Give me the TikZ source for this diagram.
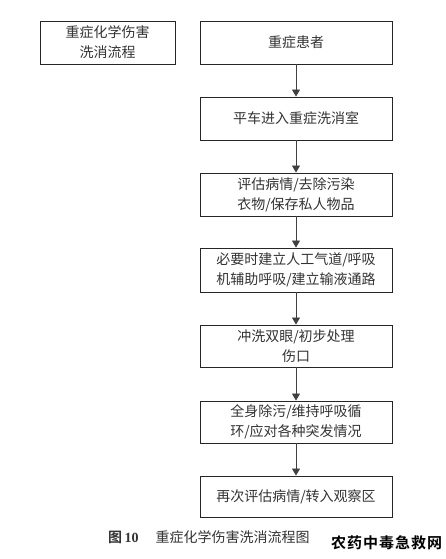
\documentclass[tikz,border=0pt]{standalone}
\usepackage{fontspec}
\setmainfont{Liberation Serif}
\newfontfamily\cjk{Noto Sans CJK SC}[BoldFont={Noto Sans CJK SC Bold}]
\usetikzlibrary{arrows.meta}
\begin{document}
\begin{tikzpicture}[x=1pt,y=-1pt,
  box/.style={draw=black!85,line width=0.9pt,minimum width=192pt,inner sep=0pt,align=center,
    font=\cjk\fontsize{14pt}{20pt}\selectfont,text=black!80},
  conn/.style={draw=black!75,line width=0.8pt,-{Triangle[width=8pt,length=7pt]}}]
\useasboundingbox (0,0) rectangle (446,559);
\node[box,minimum width=135pt,minimum height=43pt] (title) at (107.5,42.5) {重症化学伤害\\洗消流程};
\node[box,minimum height=43pt] (b1) at (296,42.5) {重症患者};
\node[box,minimum height=43pt] (b2) at (296,118.5) {平车进入重症洗消室};
\node[box,minimum height=43pt] (b3) at (296,194.5) {评估病情/去除污染\\衣物/保存私人物品};
\node[box,minimum height=44pt] (b4) at (296,270) {必要时建立人工气道/呼吸\\机辅助呼吸/建立输液通路};
\node[box,minimum height=42pt] (b5) at (296,346) {冲洗双眼/初步处理\\伤口};
\node[box,minimum height=42pt] (b6) at (296,422) {全身除污/维持呼吸循\\环/应对各种突发情况};
\node[box,minimum height=41pt] (b7) at (296,496.5) {再次评估病情/转入观察区};
\foreach \a/\b in {b1/b2,b2/b3,b3/b4,b4/b5,b5/b6,b6/b7}
  \draw[conn] (\a.south) -- (\b.north);
\node[anchor=west,inner sep=0pt,font=\fontsize{14pt}{16pt}\selectfont,text=black!80] (cap) at (108,537)
  {{\cjk\bfseries 图}\,\textbf{10}\hspace{17pt}{\cjk 重症化学伤害洗消流程图}};
\node[anchor=west,inner sep=0pt,font=\cjk\bfseries\fontsize{15pt}{16pt}\selectfont,text=black] (wm) at (331,543)
  {农\hspace{1pt}药\hspace{1pt}中\hspace{1pt}毒\hspace{1pt}急\hspace{1pt}救\hspace{1pt}网};
\end{tikzpicture}
\end{document}
